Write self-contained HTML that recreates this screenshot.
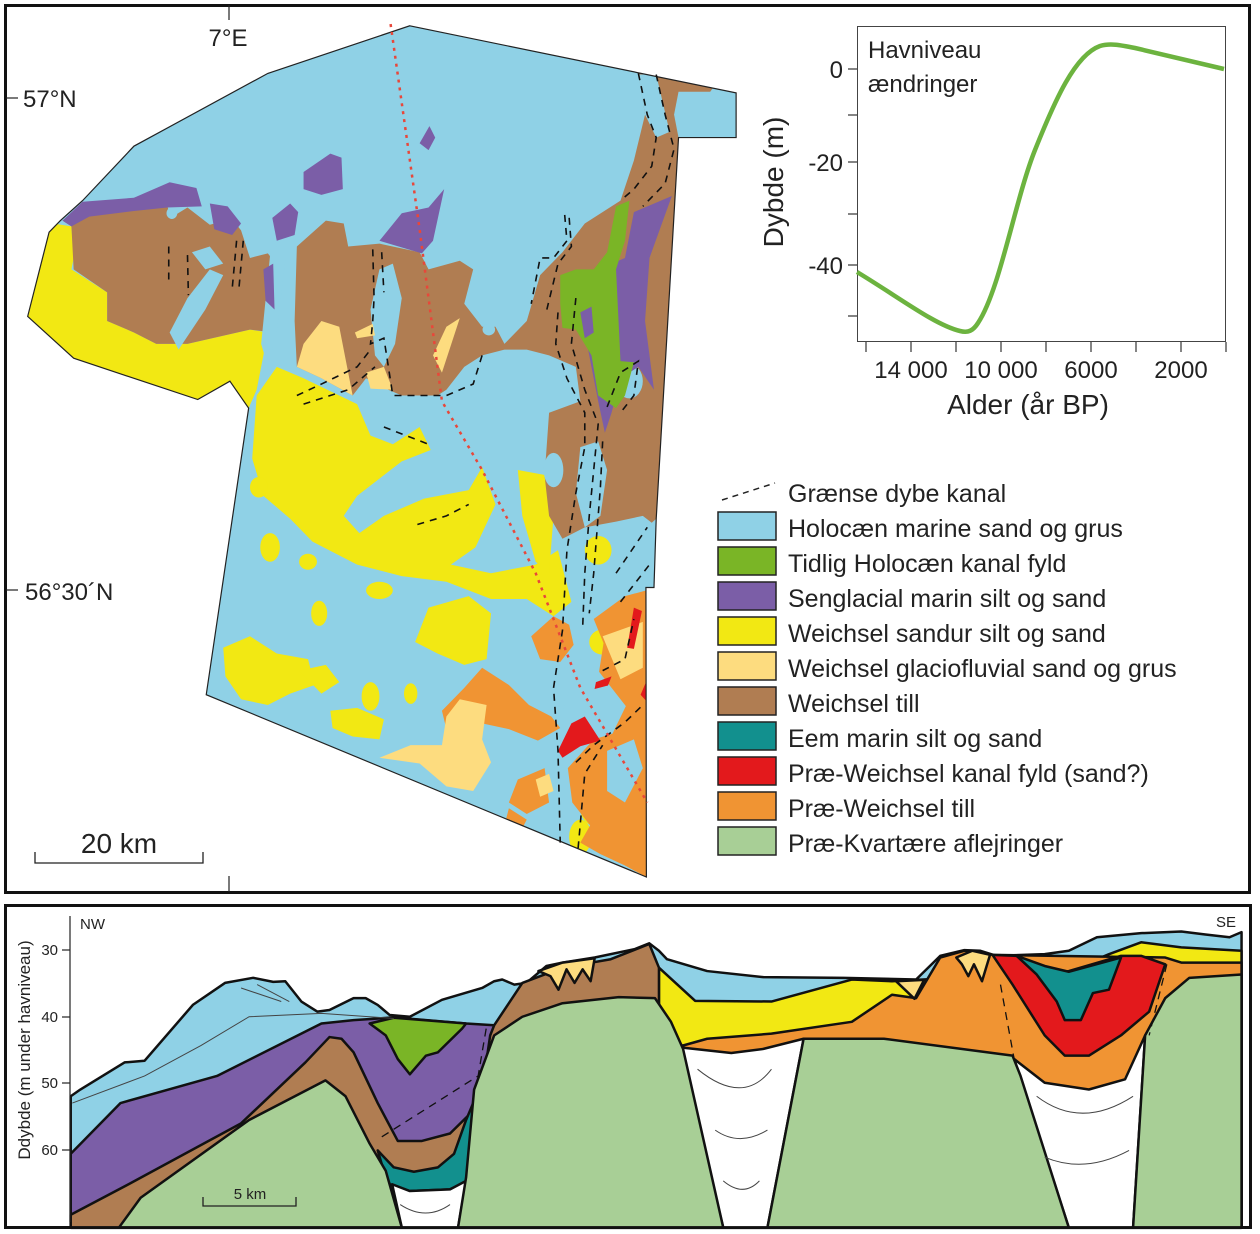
<!DOCTYPE html>
<html><head><meta charset="utf-8"><style>
html,body{margin:0;padding:0;background:#fff;}
svg{display:block;font-family:"Liberation Sans",sans-serif;}
</style></head><body>
<svg width="1260" height="1234" viewBox="0 0 1260 1234" xmlns="http://www.w3.org/2000/svg">
<rect x="0" y="0" width="1260" height="1234" fill="#fff"/>
<rect x="5.5" y="5.5" width="1244" height="887" fill="none" stroke="#111" stroke-width="3"/>
<rect x="5.5" y="905.5" width="1245" height="322" fill="none" stroke="#111" stroke-width="3"/>

<!-- MAP -->
<defs><clipPath id="mc"><polygon points="918,45 1649,162 1649,240 1520,240 1470,905 1465,1025 1447,1025 1448,1530 462,1212 557,712 515,665 443,697 165,625 62,552 110,405 135,385 185,350 300,255 600,128"/></clipPath></defs>
<g transform="scale(0.4464,0.5732)">
<g clip-path="url(#mc)">
<rect x="0" y="0" width="1700" height="1600" fill="#8fd1e6"/>
<polygon fill="#f2e813" points="40,380 160,395 165,450 160,470 240,510 240,560 300,580 350,600 420,600 560,575 600,580 575,680 557,712 515,665 443,697 165,625 40,560"/>
<path fill="#f2e813" d="M575,690 L620,640 L680,660 L760,690 L800,705 L830,760 L880,775 L940,745 L965,785 L900,805 L850,835 L800,865 L770,900 L805,930 L860,900 L950,870 L1050,855 L1080,815 L1110,880 L1065,955 L1010,985 L1100,1000 L1200,985 L1250,960 L1280,1050 L1240,1075 L1180,1045 L1100,1045 L1000,1015 L900,1005 L800,985 L700,945 L650,905 L590,865 L565,800 Z"/>
<path fill="#f2e813" d="M1160,820 L1230,830 L1240,900 L1230,1000 L1200,980 L1170,900 Z"/>
<path fill="#f2e813" d="M960,1060 L1050,1040 L1100,1070 L1090,1150 L1040,1160 L980,1140 L930,1120 Z"/>
<path fill="#f2e813" d="M500,1130 L560,1110 L620,1140 L690,1150 L705,1195 L650,1210 L600,1230 L540,1220 L505,1180 Z"/>
<path fill="#f2e813" d="M740,1240 L800,1235 L860,1255 L850,1290 L790,1285 L745,1270 Z"/>
<path fill="#f2e813" d="M670,1170 L730,1160 L760,1190 L720,1210 Z"/>
<ellipse cx="605" cy="955" rx="22" ry="25" fill="#f2e813"/>
<ellipse cx="580" cy="850" rx="20" ry="18" fill="#f2e813"/>
<ellipse cx="715" cy="1070" rx="18" ry="22" fill="#f2e813"/>
<ellipse cx="830" cy="1215" rx="20" ry="25" fill="#f2e813"/>
<ellipse cx="920" cy="1210" rx="15" ry="18" fill="#f2e813"/>
<ellipse cx="1340" cy="960" rx="30" ry="25" fill="#f2e813"/>
<ellipse cx="1330" cy="1410" rx="30" ry="30" fill="#f2e813"/>
<ellipse cx="1300" cy="1460" rx="25" ry="30" fill="#f2e813"/>
<ellipse cx="1350" cy="1120" rx="30" ry="22" fill="#f2e813"/>
<ellipse cx="690" cy="980" rx="20" ry="14" fill="#f2e813"/>
<ellipse cx="850" cy="1030" rx="30" ry="15" fill="#f2e813"/>
<polygon fill="#b07d52" points="140,385 200,360 300,352 370,345 382,380 420,362 470,392 520,382 540,402 560,450 600,442 620,462 612,580 560,575 420,600 350,600 300,580 240,560 240,510 165,470 160,395"/>
<path fill="#8fd1e6" d="M430,440 L470,430 L500,460 L460,470 Z"/>
<path fill="#8fd1e6" d="M380,580 L420,520 L470,470 L500,480 L460,540 L400,610 Z"/>
<ellipse cx="385" cy="372" rx="12" ry="10" fill="#8fd1e6"/>
<polygon fill="#b07d52" points="665,430 730,385 770,390 780,430 850,425 940,440 960,470 1030,455 1060,470 1040,530 1080,570 1110,570 1130,600 1180,560 1210,480 1260,440 1310,390 1390,350 1420,280 1445,200 1430,128 1490,130 1600,150 1520,240 1470,905 1460,912 1440,900 1380,910 1310,920 1260,940 1230,900 1220,830 1230,720 1300,700 1290,640 1230,620 1180,610 1130,610 1080,620 1040,640 1000,680 980,690 900,690 870,680 820,660 790,690 720,660 665,640 660,560"/>
<path fill="#8fd1e6" d="M830,540 L850,470 L880,460 L900,520 L885,600 L860,640 L840,620 Z"/>
<path fill="#8fd1e6" d="M605,445 L620,430 L640,450 L620,580 L600,640 L585,600 Z"/>
<path fill="#8fd1e6" d="M1300,780 L1340,770 L1360,820 L1345,900 L1310,920 L1290,860 Z"/>
<path fill="#8fd1e6" d="M1430,130 L1470,130 L1500,230 L1470,240 L1445,200 Z"/>
<path fill="#8fd1e6" d="M1520,160 L1649,160 L1649,240 L1520,240 L1510,200 Z"/>
<ellipse cx="1410" cy="665" rx="30" ry="30" fill="#8fd1e6"/>
<ellipse cx="1240" cy="820" rx="22" ry="30" fill="#8fd1e6"/>
<ellipse cx="1095" cy="575" rx="14" ry="10" fill="#8fd1e6"/>
<polygon fill="#7b5ea7" points="140,385 185,352 300,345 380,318 440,328 452,360 375,362 300,368 200,378 160,395"/>
<path fill="#7b5ea7" d="M470,355 L510,360 L540,390 L520,410 L480,400 Z"/>
<path fill="#7b5ea7" d="M590,470 L612,460 L615,540 L595,525 Z"/>
<path fill="#7b5ea7" d="M610,380 L650,355 L668,370 L660,410 L620,420 Z"/>
<path fill="#7b5ea7" d="M680,300 L740,268 L765,275 L768,330 L720,340 L680,330 Z"/>
<path fill="#7b5ea7" d="M940,250 L962,220 L975,240 L960,262 Z"/>
<path fill="#7b5ea7" d="M850,420 L900,372 L960,362 L995,330 L970,420 L945,442 Z"/>
<polygon fill="#7b5ea7" points="1300,540 1340,470 1400,450 1420,370 1505,342 1455,450 1445,560 1465,680 1430,640 1390,660 1370,720 1355,755 1340,700 1320,620"/>
<polygon fill="#7ab526" points="1255,480 1290,470 1330,470 1360,440 1380,360 1410,350 1400,420 1380,470 1390,630 1420,632 1400,690 1380,712 1340,690 1325,620 1290,575 1260,572 1255,530"/>
<path fill="#7b5ea7" d="M1300,545 L1325,535 L1330,580 L1310,590 Z"/>
<path fill="#fddc7f" d="M680,600 L720,560 L760,570 L790,690 L720,660 L665,640 Z"/>
<path fill="#fddc7f" d="M970,620 L1000,570 L1030,555 L990,650 Z"/>
<path fill="#fddc7f" d="M820,650 L860,640 L880,680 L830,678 Z"/>
<path fill="#fddc7f" d="M795,580 L835,565 L840,585 L800,590 Z"/>
<path fill="#f09433" d="M1190,1110 L1240,1075 L1275,1090 L1285,1125 L1255,1155 L1210,1150 Z"/>
<path fill="#f09433" d="M1040,1200 L1080,1165 L1140,1195 L1185,1230 L1235,1250 L1255,1270 L1205,1292 L1140,1272 L1080,1262 L1000,1272 L990,1240 Z"/>
<path fill="#f09433" d="M1330,1080 L1400,1040 L1448,1030 L1448,1530 L1400,1510 L1345,1490 L1300,1470 L1322,1440 L1282,1400 L1272,1340 L1330,1290 L1372,1280 L1402,1232 L1372,1202 L1342,1172 L1352,1122 Z"/>
<path fill="#f09433" d="M1160,1360 L1220,1340 L1230,1400 L1180,1420 L1140,1400 Z"/>
<path fill="#f09433" d="M1140,1410 L1180,1430 L1160,1460 L1130,1440 Z"/>
<path fill="#8fd1e6" d="M1300,1150 L1340,1170 L1320,1240 L1280,1290 L1260,1240 Z"/>
<path fill="#8fd1e6" d="M1360,1310 L1420,1290 L1440,1340 L1400,1400 L1360,1380 Z"/>
<path fill="#fddc7f" d="M1350,1110 L1440,1085 L1440,1165 L1390,1185 Z"/>
<path fill="#fddc7f" d="M1030,1220 L1090,1230 L1080,1290 L1100,1330 L1060,1380 L1000,1372 L940,1332 L850,1322 L920,1300 L990,1300 L1000,1250 Z"/>
<path fill="#fddc7f" d="M1200,1360 L1230,1350 L1240,1380 L1210,1390 Z"/>
<path fill="#e3191c" d="M1420,1060 L1438,1066 L1420,1132 L1405,1130 Z"/>
<path fill="#e3191c" d="M1250,1310 L1280,1262 L1310,1250 L1345,1292 L1300,1302 L1260,1322 Z"/>
<path fill="#e3191c" d="M1335,1190 L1370,1180 L1362,1196 L1332,1202 Z"/>
<path fill="#e3191c" d="M1435,1212 L1450,1185 L1450,1225 Z"/>
</g>
<polygon fill="none" stroke="#222" stroke-width="1.2" vector-effect="non-scaling-stroke" points="918,45 1649,162 1649,240 1520,240 1470,905 1465,1025 1447,1025 1448,1530 462,1212 557,712 515,665 443,697 165,625 62,552 110,405 135,385 185,350 300,255 600,128"/>
<g fill="none" stroke="#111" stroke-width="1.6" stroke-dasharray="7,6" vector-effect="non-scaling-stroke">
<polyline vector-effect="non-scaling-stroke" points="378,430 378,495"/>
<polyline vector-effect="non-scaling-stroke" points="420,445 422,515"/>
<polyline vector-effect="non-scaling-stroke" points="530,420 520,505"/>
<polyline vector-effect="non-scaling-stroke" points="545,420 535,505"/>
<polyline vector-effect="non-scaling-stroke" points="835,435 838,520 835,560 830,600 860,590 870,640 880,690 1000,690 1060,670 1080,620"/>
<polyline vector-effect="non-scaling-stroke" points="855,440 860,510"/>
<polyline vector-effect="non-scaling-stroke" points="665,690 720,670 800,640 830,610"/>
<polyline vector-effect="non-scaling-stroke" points="680,705 780,680 840,640"/>
<polyline vector-effect="non-scaling-stroke" points="860,745 960,775"/>
<polyline vector-effect="non-scaling-stroke" points="935,915 1000,900 1050,880"/>
<polyline vector-effect="non-scaling-stroke" points="1265,375 1270,420 1240,450 1210,450 1190,530"/>
<polyline vector-effect="non-scaling-stroke" points="1275,380 1280,430 1250,460 1225,540"/>
<polyline vector-effect="non-scaling-stroke" points="1250,545 1245,600 1270,660 1310,720 1310,780 1290,860 1270,960 1260,1100 1240,1200 1250,1310 1255,1470"/>
<polyline vector-effect="non-scaling-stroke" points="1290,520 1280,600 1310,680 1340,740 1330,820 1320,900 1310,1000 1305,1100"/>
<polyline vector-effect="non-scaling-stroke" points="1350,770 1345,850 1330,1000 1320,1070"/>
<polyline vector-effect="non-scaling-stroke" points="1360,710 1390,650 1430,630 1420,690 1390,720"/>
<polyline vector-effect="non-scaling-stroke" points="1430,128 1450,200 1470,240 1460,290 1420,330 1390,350"/>
<polyline vector-effect="non-scaling-stroke" points="1470,130 1490,200 1510,260 1490,320 1440,360"/>
<polyline vector-effect="non-scaling-stroke" points="1380,1000 1450,920"/>
<polyline vector-effect="non-scaling-stroke" points="1390,1050 1460,980"/>
<polyline vector-effect="non-scaling-stroke" points="1350,1170 1400,1150 1420,1080"/>
<polyline vector-effect="non-scaling-stroke" points="1290,1330 1330,1300 1400,1260 1440,1230"/>
<polyline vector-effect="non-scaling-stroke" points="1295,1480 1310,1350 1350,1300"/>
</g>
<polyline fill="none" stroke="#e8473a" stroke-width="2.5" stroke-dasharray="3,5" vector-effect="non-scaling-stroke" points="875,42 940,400 990,700 1080,820 1200,1000 1300,1200 1450,1400"/>
</g>
<g font-size="24" fill="#222">
<line x1="229" y1="5" x2="229" y2="20" stroke="#222" stroke-width="1.2"/>
<line x1="229" y1="876" x2="229" y2="892" stroke="#222" stroke-width="1.2"/>
<line x1="6" y1="98" x2="18" y2="98" stroke="#222" stroke-width="1.2"/>
<line x1="6" y1="590" x2="18" y2="590" stroke="#222" stroke-width="1.2"/>
<text x="228" y="46" text-anchor="middle">7°E</text>
<text x="23" y="107">57°N</text>
<text x="25" y="600">56°30´N</text>
<text x="119" y="853" text-anchor="middle" font-size="28">20 km</text>
<polyline fill="none" stroke="#222" stroke-width="1.3" points="35,852 35,863 203,863 203,852"/>
</g>

<rect x="857.5" y="26.5" width="368" height="315" fill="#fff" stroke="#444" stroke-width="1"/>
<g stroke="#333" stroke-width="1.2">
<line x1="848" y1="69" x2="857" y2="69"/><line x1="848" y1="115" x2="857" y2="115"/>
<line x1="848" y1="162" x2="857" y2="162"/><line x1="848" y1="214" x2="857" y2="214"/>
<line x1="848" y1="265" x2="857" y2="265"/><line x1="848" y1="316" x2="857" y2="316"/>
<line x1="866" y1="342" x2="866" y2="352"/><line x1="911" y1="342" x2="911" y2="352"/>
<line x1="956" y1="342" x2="956" y2="352"/><line x1="1001" y1="342" x2="1001" y2="352"/>
<line x1="1046" y1="342" x2="1046" y2="352"/><line x1="1091" y1="342" x2="1091" y2="352"/>
<line x1="1136" y1="342" x2="1136" y2="352"/><line x1="1181" y1="342" x2="1181" y2="352"/>
<line x1="1226" y1="342" x2="1226" y2="352"/>
</g>
<path d="M857,272 C900,298 935,325 960,331 C968,333 973,331 978,323 C1000,290 1015,200 1035,150 C1055,100 1075,55 1100,46 C1110,43 1120,45 1135,48 L1224,69" fill="none" stroke="#6cb33f" stroke-width="4.5"/>
<g font-size="24" fill="#222">
<text x="868" y="58">Havniveau</text>
<text x="868" y="92">ændringer</text>
<text x="843" y="78" text-anchor="end">0</text>
<text x="843" y="171" text-anchor="end">-20</text>
<text x="843" y="274" text-anchor="end">-40</text>
<text x="911" y="378" text-anchor="middle">14 000</text>
<text x="1001" y="378" text-anchor="middle">10 000</text>
<text x="1091" y="378" text-anchor="middle">6000</text>
<text x="1181" y="378" text-anchor="middle">2000</text>
<text x="1028" y="414" text-anchor="middle" font-size="28">Alder  (år BP)</text>
<text transform="translate(783,182) rotate(-90)" text-anchor="middle" font-size="28">Dybde (m)</text>
</g>

<line x1="722" y1="500" x2="775" y2="483" stroke="#222" stroke-width="1.5" stroke-dasharray="6,5"/>
<g stroke="#222" stroke-width="1.5">
<rect x="718" y="512" width="58" height="28" fill="#8fd1e6"/>
<rect x="718" y="547" width="58" height="28" fill="#7ab526"/>
<rect x="718" y="582" width="58" height="28" fill="#7b5ea7"/>
<rect x="718" y="617" width="58" height="28" fill="#f2e813"/>
<rect x="718" y="652" width="58" height="28" fill="#fddc7f"/>
<rect x="718" y="687" width="58" height="28" fill="#b07d52"/>
<rect x="718" y="722" width="58" height="28" fill="#12908e"/>
<rect x="718" y="757" width="58" height="28" fill="#e3191c"/>
<rect x="718" y="792" width="58" height="28" fill="#f09433"/>
<rect x="718" y="827" width="58" height="28" fill="#a8cf96"/>
</g>
<g font-size="25" fill="#222">
<text x="788" y="502">Grænse dybe kanal</text>
<text x="788" y="537">Holocæn marine sand og grus</text>
<text x="788" y="572">Tidlig Holocæn kanal fyld</text>
<text x="788" y="607">Senglacial marin silt og sand</text>
<text x="788" y="642">Weichsel sandur silt og sand</text>
<text x="788" y="677">Weichsel glaciofluvial sand og grus</text>
<text x="788" y="712">Weichsel till</text>
<text x="788" y="747">Eem marin silt og sand</text>
<text x="788" y="782">Præ-Weichsel kanal fyld (sand?)</text>
<text x="788" y="817">Præ-Weichsel till</text>
<text x="788" y="852">Præ-Kvartære aflejringer</text>
</g>

<g transform="translate(0,900) scale(0.8036,0.3384)">
<g stroke="#111" stroke-width="2.5" stroke-linejoin="round">
<polygon vector-effect="non-scaling-stroke" fill="#8fd1e6" points="88,580 100,560 155,480 180,475 240,310 280,245 315,230 340,242 355,240 375,300 395,330 410,325 440,290 455,290 470,310 485,340 510,345 550,295 600,260 615,240 625,235 640,250 655,245 680,195 700,185 740,170 790,145 808,128 820,150 830,175 880,210 950,228 1050,230 1140,235 1170,165 1200,148 1220,150 1240,165 1300,160 1330,150 1365,110 1420,98 1470,93 1500,102 1530,110 1545,95 1545,968 88,968"/>
<polygon vector-effect="non-scaling-stroke" fill="#f2e813" points="820,200 865,298 960,300 1060,235 1110,240 1300,215 1330,210 1380,160 1420,125 1470,140 1545,150 1545,968 820,968"/>
<polygon vector-effect="non-scaling-stroke" fill="#f09433" points="820,420 850,430 880,410 960,395 1060,360 1110,280 1140,290 1170,170 1200,150 1235,162 1450,170 1470,185 1545,185 1545,968 820,968"/>
<polygon vector-effect="non-scaling-stroke" fill="#fddc7f" points="1115,240 1150,236 1138,292"/>
<polygon vector-effect="non-scaling-stroke" fill="#fddc7f" points="1190,170 1210,150 1232,162 1222,240 1212,190 1205,225 1197,190"/>
<polygon vector-effect="non-scaling-stroke" fill="#e3191c" points="1235,162 1265,165 1300,215 1330,210 1395,165 1420,165 1450,190 1430,330 1395,400 1355,460 1325,460 1300,400 1260,250"/>
<polygon vector-effect="non-scaling-stroke" fill="#12908e" points="1265,165 1300,195 1330,212 1395,170 1380,265 1360,275 1345,355 1325,355 1315,300 1290,220"/>
<polygon vector-effect="non-scaling-stroke" fill="#7b5ea7" points="88,750 150,600 270,520 400,365 440,355 490,347 580,365 615,370 615,968 88,968"/>
<polygon vector-effect="non-scaling-stroke" fill="#7ab526" points="460,365 490,348 580,365 575,380 545,450 530,460 510,515 495,470 480,400"/>
<polygon vector-effect="non-scaling-stroke" fill="#b07d52" points="88,930 160,840 300,660 380,480 410,405 425,410 440,450 470,600 495,712 525,712 560,690 590,620 600,560 610,400 615,370 650,245 700,200 760,175 808,130 820,200 820,968 88,968"/>
<polygon vector-effect="non-scaling-stroke" fill="#fddc7f" points="670,210 700,185 740,172 735,240 725,205 715,245 705,205 695,265 685,225"/>
<polygon vector-effect="non-scaling-stroke" fill="#12908e" points="470,740 490,790 515,803 545,790 565,750 580,650 595,565 585,830 560,855 510,860 485,840 475,780"/>
<polygon vector-effect="non-scaling-stroke" fill="#fff" points="488,840 510,860 560,855 580,830 570,968 500,968"/>
<polygon vector-effect="non-scaling-stroke" fill="#fff" points="845,435 910,452 950,440 1000,410 955,968 900,968"/>
<polygon vector-effect="non-scaling-stroke" fill="#fff" points="1262,470 1300,540 1355,560 1400,530 1425,400 1410,968 1330,968"/>
<polygon vector-effect="non-scaling-stroke" fill="#a8cf96" points="148,968 175,880 310,650 405,533 430,580 460,720 480,800 500,968"/>
<polygon vector-effect="non-scaling-stroke" fill="#a8cf96" points="570,968 580,820 590,560 615,400 650,345 700,305 770,287 815,290 835,360 850,440 900,968"/>
<polygon vector-effect="non-scaling-stroke" fill="#a8cf96" points="955,968 1000,410 1100,410 1260,460 1270,520 1330,968"/>
<polygon vector-effect="non-scaling-stroke" fill="#a8cf96" points="1410,968 1425,400 1450,290 1480,230 1545,220 1545,968"/>
</g>
<g fill="none" stroke="#444" stroke-width="1">
<path vector-effect="non-scaling-stroke" d="M90,600 L180,520 L250,430 L310,345 L400,335 L490,350"/>
<path vector-effect="non-scaling-stroke" d="M498,900 Q530,950 560,900"/>
<path vector-effect="non-scaling-stroke" d="M868,500 Q925,610 960,500"/>
<path vector-effect="non-scaling-stroke" d="M890,680 Q920,730 955,680"/>
<path vector-effect="non-scaling-stroke" d="M900,830 Q925,880 945,830"/>
<path vector-effect="non-scaling-stroke" d="M1290,580 Q1345,680 1410,580"/>
<path vector-effect="non-scaling-stroke" d="M1300,760 Q1350,810 1405,740"/>
<path vector-effect="non-scaling-stroke" d="M300,260 L350,300 M320,250 L360,300"/>
</g>
<g fill="none" stroke="#111" stroke-width="1.3" stroke-dasharray="8,6">
<path vector-effect="non-scaling-stroke" d="M605,380 L595,520 L475,700"/>
<path vector-effect="non-scaling-stroke" d="M1245,250 L1262,470"/>
<path vector-effect="non-scaling-stroke" d="M1452,190 L1430,400"/>
</g>
<line x1="88" y1="968" x2="1545" y2="968" stroke="#111" stroke-width="3" vector-effect="non-scaling-stroke"/>
</g>
<g stroke="#222" stroke-width="1.2">
<line x1="62" y1="950" x2="70" y2="950"/><line x1="62" y1="1017" x2="70" y2="1017"/>
<line x1="62" y1="1083" x2="70" y2="1083"/><line x1="62" y1="1150" x2="70" y2="1150"/>
<line x1="70" y1="916" x2="70" y2="1222"/>
</g>
<polyline fill="none" stroke="#222" stroke-width="1.3" points="203,1197 203,1206 296,1206 296,1197"/>
<g font-size="15" fill="#222">
<text x="58" y="955" text-anchor="end">30</text>
<text x="58" y="1022" text-anchor="end">40</text>
<text x="58" y="1088" text-anchor="end">50</text>
<text x="58" y="1155" text-anchor="end">60</text>
<text x="80" y="929">NW</text>
<text x="1216" y="927">SE</text>
<text x="250" y="1199" text-anchor="middle">5 km</text>
<text transform="translate(30,1050) rotate(-90)" text-anchor="middle" font-size="17">Ddybde  (m under havniveau)</text>
</g>
</svg>
</body></html>
